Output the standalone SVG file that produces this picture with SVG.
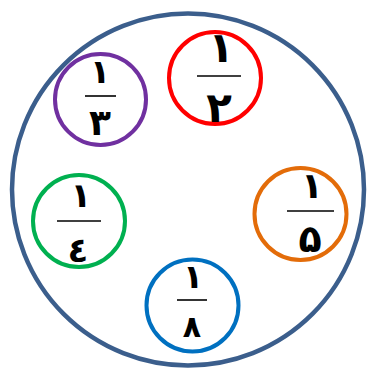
<svg xmlns="http://www.w3.org/2000/svg" width="368" height="370" viewBox="0 0 368 370">
<style>
.ring{fill:#fff;stroke-width:4}
.bar{stroke:#000;stroke-width:1.6}
.d{font-family:"DejaVu Sans",sans-serif;font-weight:bold;fill:#000;text-anchor:middle}
</style>
<rect width="368" height="370" fill="#fff"/>
<g id="outer"><circle cx="188" cy="189.5" r="176" fill="#fff" stroke="#3b5e8c" stroke-width="4.5"/></g>
<g id="third">
<circle class="ring" cx="100.5" cy="99.5" r="45.5" stroke="#7030a0"/>
<line class="bar" x1="85" y1="96" x2="116" y2="96"/>
<text class="d" x="100" y="83" font-size="33">١</text>
<text class="d" x="100" y="135" font-size="36">٣</text>
</g>
<g id="half">
<circle class="ring" cx="215" cy="78" r="46" stroke="#ff0000"/>
<line class="bar" x1="197" y1="76" x2="241" y2="76"/>
<text class="d" x="221" y="62" font-size="42">١</text>
<text class="d" x="219" y="122" font-size="42">٢</text>
</g>
<g id="sixth">
<circle class="ring" cx="79" cy="221" r="46" stroke="#00b050"/>
<line class="bar" x1="57" y1="221" x2="101" y2="221"/>
<text class="d" x="81" y="207" font-size="34">١</text>
<text class="d" x="78" y="262" font-size="34">٤</text>
</g>
<g id="fifth">
<circle class="ring" cx="300.5" cy="214" r="46" stroke="#e36c09"/>
<line class="bar" x1="287" y1="211" x2="334" y2="211"/>
<text class="d" x="312" y="198" font-size="36">١</text>
<text class="d" x="310" y="252" font-size="38">۵</text>
</g>
<g id="eighth">
<circle class="ring" cx="192.5" cy="305.5" r="46" stroke="#0070c0"/>
<line class="bar" x1="177" y1="300" x2="207" y2="300"/>
<text class="d" x="193" y="288" font-size="33">١</text>
<text class="d" x="192" y="337" font-size="30">٨</text>
</g>
</svg>
